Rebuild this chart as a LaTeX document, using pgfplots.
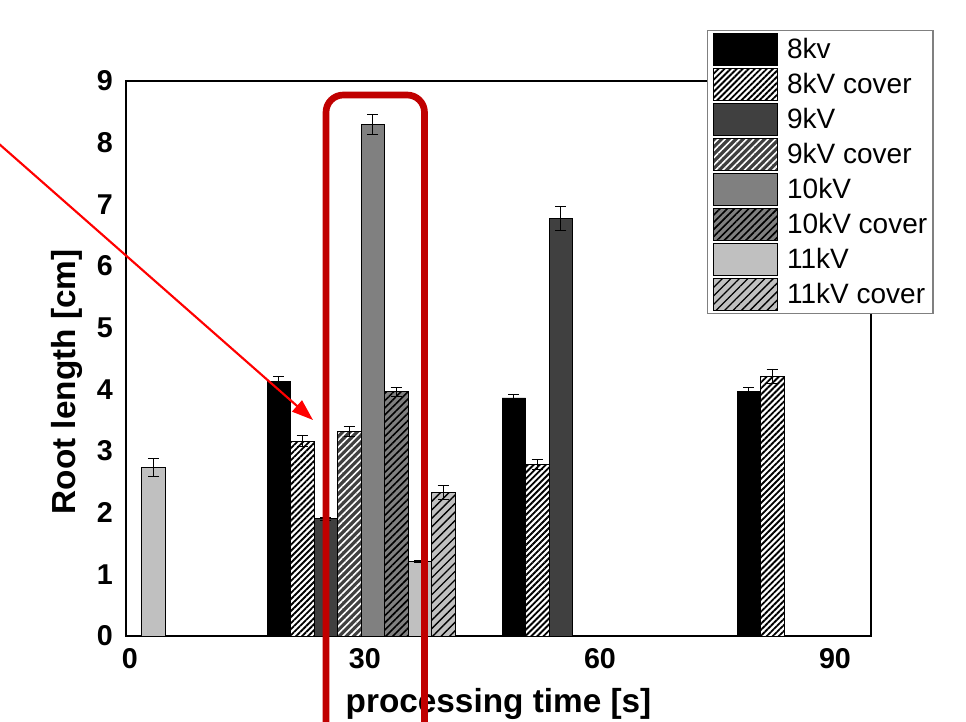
\documentclass[border=0pt]{standalone}
\usepackage{fontspec}
\setmainfont{Liberation Sans}
\usepackage{pgfplots}
\usepackage{pgfplotstable}
\pgfplotsset{compat=1.18}
\usetikzlibrary{patterns.meta,arrows.meta}
\definecolor{gA}{RGB}{64,64,64}
\definecolor{gB}{RGB}{128,128,128}
\definecolor{gC}{RGB}{192,192,192}
\definecolor{boxred}{RGB}{192,0,0}

\pgfplotstableread{
x y e
19 4.13 0.08
49 3.86 0.06
79 3.97 0.06
}\tabA
\pgfplotstableread{
x y e
22 3.16 0.09
52 2.78 0.08
82 4.21 0.12
}\tabAc
\pgfplotstableread{
x y e
25 1.90 0.03
55 6.77 0.20
}\tabB
\pgfplotstableread{
x y e
28 3.32 0.08
}\tabBc
\pgfplotstableread{
x y e
31 8.30 0.16
}\tabC
\pgfplotstableread{
x y e
34 3.96 0.07
}\tabCc
\pgfplotstableread{
x y e
3 2.73 0.15
37 1.21 0.02
}\tabD
\pgfplotstableread{
x y e
40 2.33 0.11
}\tabDc

\pgfplotsset{
  mybar/.style={ybar, bar width=3, bar shift=0pt, draw=black, line width=0.6pt,
    legend image code/.code={\draw[##1] (0pt,-12pt) rectangle (48pt,12pt);},
    /pgfplots/error bars/y dir=both,
    /pgfplots/error bars/y explicit,
    /pgfplots/error bars/error bar style={line width=0.6pt, black, solid},
    /pgfplots/error bars/error mark options={rotate=90, mark size=4.2pt, line width=0.6pt, black}},
}

\begin{document}
\begin{tikzpicture}
\begin{axis}[name=ax, scale only axis, width=558.75pt, height=416.25pt,
  xmin=-0.5, xmax=94.6, ymin=0, ymax=9,
  xtick={0,30,60,90}, ytick={0,1,...,9},
  major tick length=0pt,
  axis line style={line width=1.2pt},
  ticklabel style={font=\fontsize{21.5}{25}\selectfont\bfseries},
  /pgf/number format/assume math mode=true,
  xticklabel style={inner sep=0pt, yshift=-9pt},
  yticklabel style={inner sep=0pt, xshift=-9.75pt},
  xlabel={processing time [s]}, ylabel={Root length [cm]},
  xlabel style={font=\fontsize{25}{30}\selectfont\bfseries, at={(rel axis cs:0.5,0)}, anchor=center, yshift=-51pt},
  ylabel style={font=\fontsize{25}{30}\selectfont\bfseries, at={(rel axis cs:-0.0786,0.458)}, anchor=center},
  legend style={at={(rel axis cs:0.78,1.092)}, anchor=north west, draw=gray, fill=white, line width=0.8pt,
    font=\fontsize{21}{24}\selectfont, row sep=1.6pt, column sep=6.75pt, inner xsep=4.3pt, inner ysep=2pt,
    nodes={inner sep=0pt}},
  legend cell align=left,
]
\addplot[mybar, fill=black] table[x=x,y=y,y error=e]{\tabA};
\addlegendentry{8kv}
\addplot[mybar, fill=white, postaction={pattern={Lines[angle=45,distance=3.2pt,line width=1.4pt]}, pattern color=black}] table[x=x,y=y,y error=e]{\tabAc};
\addlegendentry{8kV cover}
\addplot[mybar, fill=gA] table[x=x,y=y,y error=e]{\tabB};
\addlegendentry{9kV}
\addplot[mybar, fill=gA, postaction={pattern={Lines[angle=45,distance=3.8pt,line width=1.2pt]}, pattern color=white}] table[x=x,y=y,y error=e]{\tabBc};
\addlegendentry{9kV cover}
\addplot[mybar, fill=gB] table[x=x,y=y,y error=e]{\tabC};
\addlegendentry{10kV}
\addplot[mybar, fill=gB, postaction={pattern={Lines[angle=45,distance=3.8pt,line width=1.2pt]}, pattern color=black}] table[x=x,y=y,y error=e]{\tabCc};
\addlegendentry{10kV cover}
\addplot[mybar, fill=gC] table[x=x,y=y,y error=e]{\tabD};
\addlegendentry{11kV}
\addplot[mybar, fill=gC, postaction={pattern={Lines[angle=45,distance=4.5pt,line width=1pt]}, pattern color=black}] table[x=x,y=y,y error=e]{\tabDc};
\addlegendentry{11kV cover}
\end{axis}
\begin{scope}[shift={(ax.north west)}, xshift=-94.5pt, yshift=60.75pt, x=0.75pt, y=-0.75pt]
\pgfresetboundingbox
\path[use as bounding box] (0,0) rectangle (966,721);
\clip (0,0) rectangle (966,721);
\draw[red, line width=1.6pt, -{Triangle[length=16pt, width=11pt]}] (-2,143) -- (313,420);
\draw[boxred, line width=5pt, rounded corners=13pt] (326,760) -- (326,95) -- (424.5,95) -- (424.5,760);
\end{scope}
\end{tikzpicture}
\end{document}
